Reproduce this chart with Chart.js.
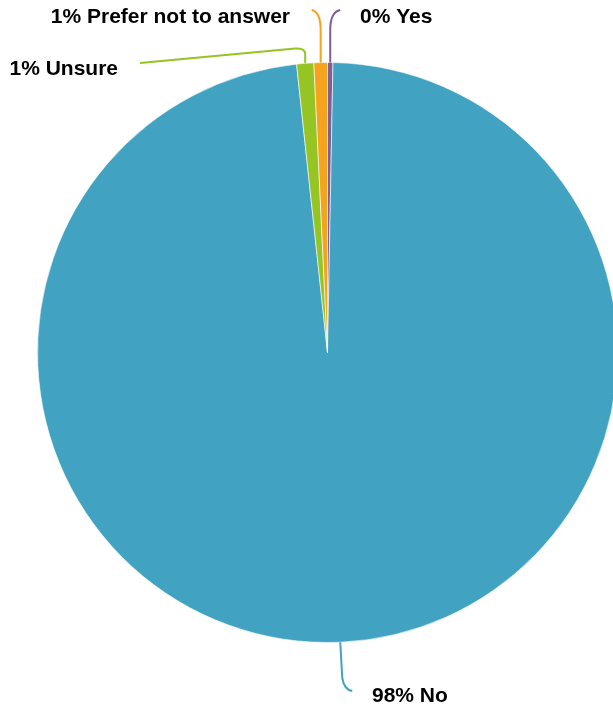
<!DOCTYPE html>
<html><head><meta charset="utf-8">
<script src="https://cdn.jsdelivr.net/npm/chart.js@4"></script>
<style>html,body{margin:0;padding:0;background:#fff;overflow:hidden;width:613px;height:712px}canvas{display:block}</style>
</head><body>
<canvas id="c" width="640" height="712"></canvas>
<script>
const categories = ["Yes", "No", "Unsure", "Prefer not to answer"];
const values = [0.3, 98.0, 0.95, 0.75];
const percentLabels = ["0%", "98%", "1%", "1%"];
const colors = ["#7F5F98", "#41A2C2", "#95C423", "#F5A31C"];

// label layout (style): text anchor, align, and leader path control points
const labelLayout = [
  {tx: 360, ty: 17, align: "left", path: (s) => [[s.x, 30], [s.x, 12, s.x + 10, 10]]},
  {tx: 372, ty: 696, align: "left", path: (s) => [[s.x + 2, 678], [s.x + 4, 690, s.x + 12, 691]]},
  {tx: 118, ty: 69, align: "right", path: (s) => [[s.x, 54], [s.x, 48, s.x - 10, 48.5], [140, 63]]},
  {tx: 290, ty: 17, align: "right", path: (s) => [[s.x, 30], [s.x, 12, s.x - 9, 10]]}
];

const labelPlugin = {
  id: "leaders",
  afterDatasetsDraw(chart) {
    const ctx = chart.ctx;
    const meta = chart.getDatasetMeta(0);
    meta.data.forEach((arc, i) => {
      const p = arc.getProps(["x", "y", "startAngle", "endAngle", "outerRadius"], true);
      const mid = (p.startAngle + p.endAngle) / 2;
      const s = {x: p.x + Math.cos(mid) * p.outerRadius, y: p.y + Math.sin(mid) * p.outerRadius};
      const L = labelLayout[i];
      ctx.save();
      ctx.strokeStyle = colors[i];
      ctx.lineWidth = 2;
      ctx.beginPath();
      ctx.moveTo(s.x, s.y);
      L.path(s).forEach(seg => {
        if (seg.length === 2) ctx.lineTo(seg[0], seg[1]);
        else ctx.quadraticCurveTo(seg[0], seg[1], seg[2], seg[3]);
      });
      ctx.stroke();
      ctx.fillStyle = "#000";
      ctx.font = "bold 21px 'Liberation Sans', Arial, sans-serif";
      ctx.textAlign = L.align;
      ctx.textBaseline = "middle";
      ctx.fillText(percentLabels[i] + " " + categories[i], L.tx, L.ty);
      ctx.restore();
    });
  }
};

new Chart(document.getElementById("c"), {
  type: "pie",
  data: {
    labels: categories,
    datasets: [{data: values, backgroundColor: colors, borderColor: "rgba(255,255,255,0.6)", borderWidth: 1}]
  },
  options: {
    responsive: false,
    animation: false,
    devicePixelRatio: 1,
    layout: {padding: {left: 37, right: 22, top: 62, bottom: 69}},
    plugins: {legend: {display: false}, tooltip: {enabled: false}}
  },
  plugins: [labelPlugin]
});
</script>
</body></html>
